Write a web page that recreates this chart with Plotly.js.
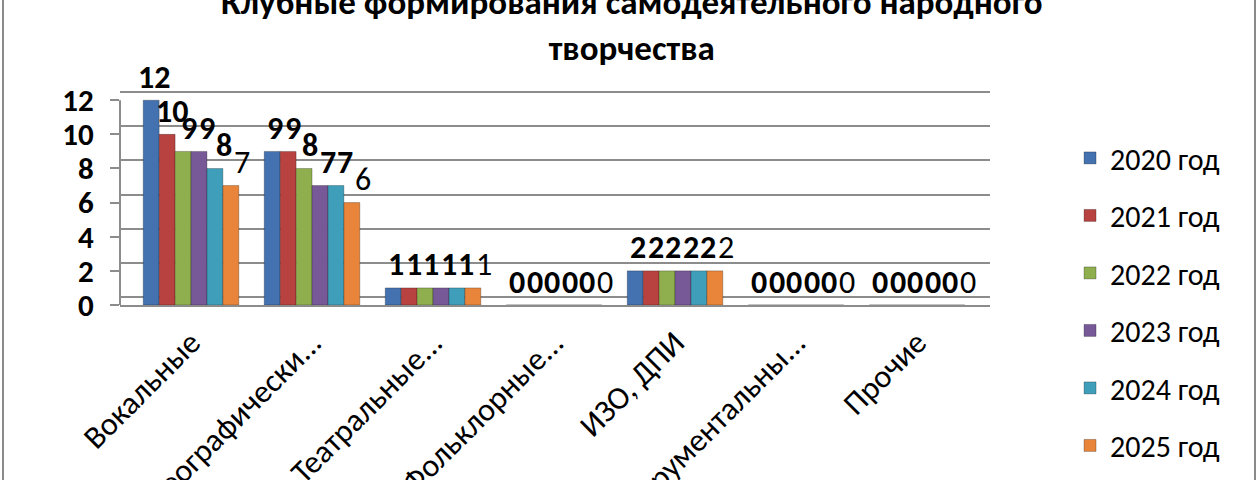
<!DOCTYPE html>
<html>
<head>
<meta charset="utf-8">
<script src="https://cdn.plot.ly/plotly-3.0.1.min.js"></script>
<style>
  html, body { margin: 0; padding: 0; background: #fff; }
  #chart { width: 1260px; height: 480px; }
</style>
</head>
<body>
<div id="chart"></div>
<script>
'use strict';

// Категории (подписи обрезаны так же, как на исходной диаграмме)
const categories = ['Вокальные', 'Хореографически...', 'Театральные...', 'Фольклорные...', 'ИЗО, ДПИ', 'Инструментальны...', 'Прочие'];

const years = ['2020 год', '2021 год', '2022 год', '2023 год', '2024 год', '2025 год'];

const y2020 = [12, 9, 1, 0, 2, 0, 0];
const y2021 = [10, 9, 1, 0, 2, 0, 0];
const y2022 = [9, 8, 1, 0, 2, 0, 0];
const y2023 = [9, 7, 1, 0, 2, 0, 0];
const y2024 = [8, 7, 1, 0, 2, 0, 0];
const y2025 = [7, 6, 1, 0, 2, 0, 0];

const yTicks = [0, 2, 4, 6, 8, 10, 12];

const titleText = 'Клубные формирования самодеятельного народного<br>творчества';

const colors = ['#4472b0', '#b8423f', '#8fae4e', '#765996', '#3f9fbb', '#e8853a'];
const FONT = 'Carlito, Lato, "Liberation Sans", sans-serif';
const GRID = '#8c8c8c';
const BARGAP = 0.21;

const series = [y2020, y2021, y2022, y2023, y2024, y2025];

const traces = series.map((vals, i) => ({
    type: 'bar',
    name: years[i],
    legendgroup: 'g' + i,
    x: categories,
    y: vals,
    marker: { color: colors[i], line: { color: 'rgba(0,0,0,0.25)', width: 1 } },
    hoverinfo: 'x+y+name',
}));

// пустой след, чтобы задняя стенка (ось y2 с сеткой) была нарисована
traces.push({
    type: 'scatter', mode: 'markers', x: [categories[0]], y: [null],
    yaxis: 'y2', showlegend: false, hoverinfo: 'skip',
});

// подписи значений: над каждым столбиком, со сдвигом как в объёмной диаграмме Excel
const barW = (1 - BARGAP) / series.length;
const valueLabels = [];
series.forEach((vals, i) => {
    vals.forEach((v, j) => {
        valueLabels.push({
            x: j + (i - (series.length - 1) / 2) * barW, y: v,
            xref: 'x', yref: 'y', text: String(v), showarrow: false,
            xanchor: 'center', yanchor: 'middle', xshift: 3 + 1.6 * i, yshift: 23,
            font: { family: FONT, size: 32, color: '#000', weight: i < 5 ? 'bold' : 'normal' },
        });
    });
});

const layout = {
    width: 1260, height: 480,
    paper_bgcolor: '#fff', plot_bgcolor: '#fff',
    margin: { l: 120, r: 270, t: 90, b: 175, autoexpand: false },
    font: { family: FONT, color: '#000' },
    barmode: 'group', bargap: BARGAP, bargroupgap: 0,
    showlegend: true,
    legend: {
        x: 1.092, xanchor: 'left', y: 0.805, yanchor: 'top',
        font: { family: FONT, size: 30, color: '#000' },
        tracegroupgap: 15.5, bgcolor: 'rgba(0,0,0,0)',
        maxheight: 1000,
    },
    xaxis: {
        type: 'category', range: [-0.587, 6.603],
        tickangle: -45, ticks: '', automargin: false,
        tickfont: { family: FONT, size: 32, color: '#000' },
        ticklabelstandoff: 4,
        showline: true, linecolor: GRID, linewidth: 2,
        showgrid: false, zeroline: false, fixedrange: true,
    },
    yaxis: {
        range: [0, 12.6], tickvals: yTicks, automargin: false,
        tickfont: { family: FONT, size: 31, color: '#000', weight: 'bold' },
        ticks: 'outside', ticklen: 9, tickcolor: GRID, tickwidth: 2,
        ticklabelstandoff: 10,
        showline: false,
        showgrid: false, zeroline: false, fixedrange: true,
    },
    // задняя стенка: сетка, смещённая вверх, как на объёмной диаграмме
    yaxis2: {
        overlaying: 'y', side: 'left', range: [-0.47, 12.13],
        tickvals: yTicks, showticklabels: false, ticks: '',
        showgrid: true, gridcolor: GRID, gridwidth: 2,
        zeroline: false, showline: false, fixedrange: true,
    },
    annotations: [{
        text: titleText, xref: 'paper', yref: 'paper',
        x: 0.5885, y: 1.3, xanchor: 'center', yanchor: 'middle',
        showarrow: false,
        font: { family: FONT, size: 35, color: '#000', weight: 'bold' },
    }].concat(valueLabels),
    shapes: [
        { type: 'line', xref: 'paper', yref: 'paper', x0: -0.1345, x1: -0.1345, y0: -1, y1: 2, line: { color: '#8a8a8a', width: 2 } },
        { type: 'line', xref: 'paper', yref: 'paper', x0: 1.3046, x1: 1.3046, y0: -1, y1: 2, line: { color: '#8a8a8a', width: 2 } },
        { type: 'line', xref: 'paper', yref: 'y', x0: 0, x1: 0, y0: 0, y1: 12, line: { color: GRID, width: 2 } },
    ],
};

Plotly.newPlot('chart', traces, layout, { staticPlot: true, displayModeBar: false });
</script>
</body>
</html>
